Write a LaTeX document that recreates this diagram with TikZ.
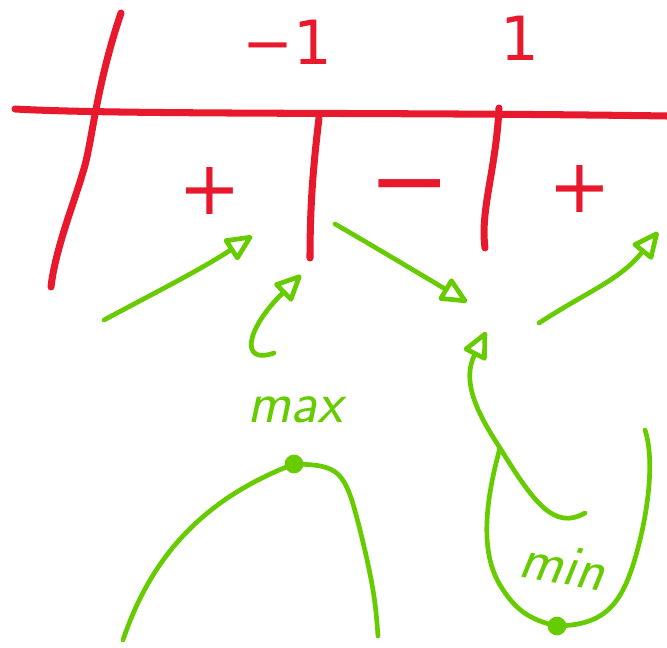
\documentclass[tikz,border=0pt]{standalone}
\usepackage{fontspec}
\usepackage{tikz}
\usetikzlibrary{arrows.meta}
\newfontfamily\signfont{DejaVu Sans}
\definecolor{signred}{HTML}{E8192C}
\definecolor{penGreen}{HTML}{66CC00}
\tikzset{
  axis/.style={line width=6pt,signred,line cap=round,line join=round},
  signmark/.style={font=\fontsize{64}{64}\selectfont\signfont,text=signred,inner sep=0pt},
  rootlabel/.style={font=\fontsize{52}{52}\selectfont\signfont,text=signred,inner sep=0pt},
  trend/.style={-{Triangle[open,length=9mm,width=8mm,round]},line width=4pt,penGreen,line cap=round,line join=round},
  graph/.style={line width=4pt,penGreen,line cap=round,line join=round},
  word/.style={font=\fontsize{50}{50}\selectfont\sffamily\slshape,text=penGreen,inner sep=0pt}
}

\begin{document}
\begin{tikzpicture}[x=0.03cm,y=-0.03cm]
\useasboundingbox (0,0) rectangle (667,648);
% sign chart
\draw[axis] (15,109) .. controls (120,115) and (400,112) .. (667,116);
\draw[axis] (121,13) .. controls (95,90) and (92,145) .. (83,172) .. controls (75,200) and (55,250) .. (51,287);
\draw[axis] (319,118) .. controls (314,160) and (310,200) .. (310,258);
\draw[axis] (499,108) .. controls (496,170) and (480,210) .. (485,248);
\node[rootlabel] (rootA) at (287,42) {−1};
\node[rootlabel] (rootB) at (520,38) {1};
\node[signmark] (signA) at (210,191) {+};
\node[signmark,font=\fontsize{84}{84}\selectfont\signfont] (signB) at (410,197) {−};
\node[signmark] (signC) at (580,189) {+};
% arrows
\coordinate (a1) at (104,320);
\coordinate (b1) at (252,236);
\coordinate (a2) at (274,353);
\coordinate (b2) at (301,275);
\coordinate (a3) at (335,224);
\coordinate (b3) at (467,302);
\coordinate (a4) at (539,323);
\coordinate (b4) at (658,232);
\coordinate (a5) at (585,513);
\coordinate (b5) at (486,332);
\draw[trend] (a1) .. controls (160,290) and (200,270) .. (b1);
\draw[trend] (a2) .. controls (240,365) and (245,330) .. (b2);
\draw[trend] (a3) .. controls (380,250) and (430,280) .. (b3);
\draw[trend] (a4) .. controls (590,290) and (620,280) .. (b4);
\draw[trend] (a5) .. controls (555,530) and (535,505) .. (500,448)
  .. controls (475,410) and (462,380) .. (b5);
% max and min
\node[word] (maxword) at (295,410) {max};
\node[word,rotate=-10] (minword) at (563,565) {min};
\coordinate (top) at (294,464);
\coordinate (bottom) at (557,626);
\draw[graph] (123,640) .. controls (150,560) and (200,500) .. (top)
  .. controls (340,465) and (345,470) .. (360,530) .. controls (375,590) and (376,610) .. (378,636);
\draw[graph] (500,448) .. controls (480,520) and (485,560) .. (500,585)
  .. controls (515,610) and (530,620) .. (bottom)
  .. controls (610,625) and (625,600) .. (640,540) .. controls (652,490) and (652,450) .. (645,430);
\fill[penGreen] (top) circle (8pt);
\fill[penGreen] (bottom) circle (8pt);
\end{tikzpicture}
\end{document}
